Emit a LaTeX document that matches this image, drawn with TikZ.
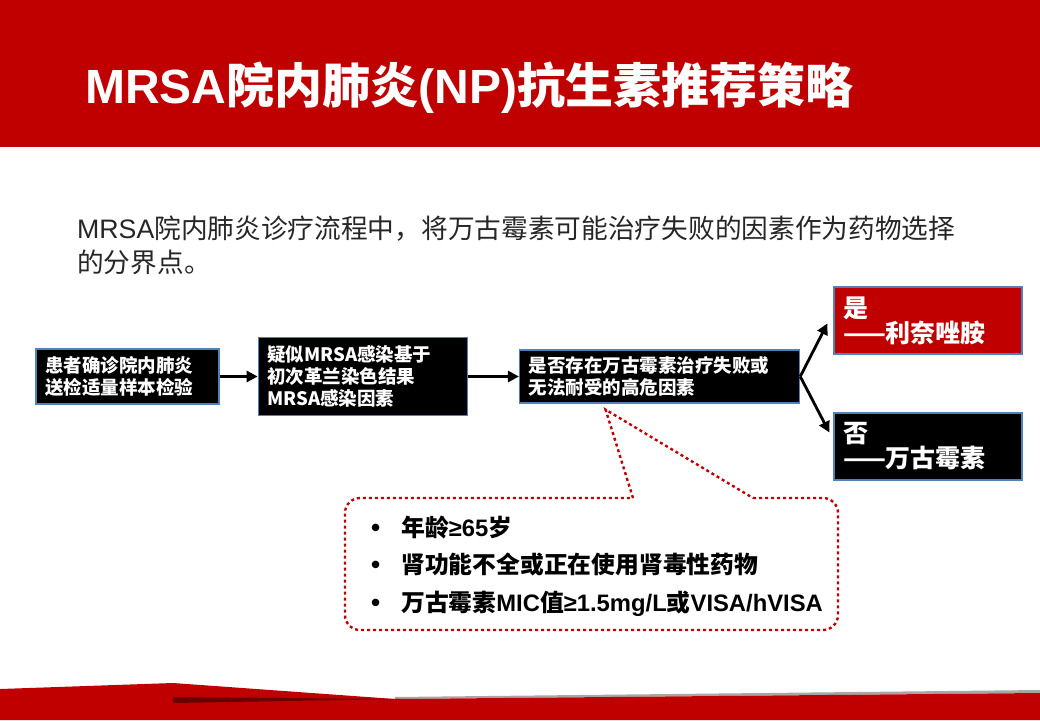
\documentclass[tikz,border=0pt]{standalone}
\usepackage{fontspec}
\setmainfont{Noto Sans CJK SC}
\newfontfamily\lat{Liberation Sans}
\usepackage{xcolor}
\usetikzlibrary{arrows.meta, positioning, calc}
\definecolor{titleRed}{HTML}{C00000}
\definecolor{edgeBlue}{HTML}{4F81BD}
\definecolor{leadGray}{HTML}{262626}
\tikzset{
  stepbox/.style={
    draw=edgeBlue, fill=#1, line width=1.3pt, text=white,
    align=left, inner xsep=9pt, inner ysep=3pt,
    font=\fontsize{18.5}{22}\selectfont\bfseries
  },
  stepbox/.default=black,
  answer/.style={
    stepbox=#1, text width=170pt, minimum height=67pt,
    font=\fontsize{25}{25}\selectfont\bfseries
  },
  titletext/.style={
    inner sep=0pt, anchor=west,
    font=\fontsize{48}{56}\selectfont\bfseries
  },
  lead/.style={
    inner sep=0pt, anchor=west, align=left, text=leadGray,
    font=\fontsize{26.7}{34}\selectfont
  },
  risklist/.style={
    inner sep=0pt, anchor=west, align=left, text=black,
    font=\fontsize{23.8}{37.5}\selectfont\bfseries
  },
  arrow/.style={-{Triangle[length=11pt,width=11pt]}, line width=2.8pt},
  callout/.style={draw=titleRed, line width=2.4pt, dash pattern=on 3pt off 3pt}
}
\newcommand{\riskitem}[1]{\makebox[30pt][l]{\lat\fontsize{26}{26}\selectfont•}#1}

\begin{document}
\begin{tikzpicture}[x=1pt, y=-1pt]
  \useasboundingbox (0,0) rectangle (1040,720);
  % title bar
  \fill[titleRed] (0,0) rectangle (1040,147);
  \node[titletext, text=white] (title) at (85,88) {{\lat MRSA}院内肺炎{\lat (NP)}抗生素推荐策略};
  \node[lead] (lead) at (77,245) {{\lat MRSA}院内肺炎诊疗流程中，将万古霉素可能治疗失败的因素作为药物选择\\的分界点。};

  % flow
  \node[stepbox, text width=165pt, minimum height=55pt] (exam) at (127.5,376.5) {患者确诊院内肺炎\\送检适量样本检验};
  \node[stepbox, text width=191pt, minimum height=78pt, right=38pt of exam] (gram) {疑似MRSA感染基于\\初次革兰染色结果\\MRSA感染因素};
  \node[stepbox, text width=262pt, minimum height=53pt, right=51pt of gram] (cond) {是否存在万古霉素治疗失败或\\无法耐受的高危因素};
  \node[answer=titleRed] (yes) at (928,320.5) {是\\——利奈唑胺};
  \node[answer=black] (no) at (928,446.5) {否\\——万古霉素};
  \draw[arrow] (exam) -- (gram);
  \draw[arrow] (gram) -- (cond);
  \draw[arrow] (cond.east) -- ($(yes.west)+(-6,3)$);
  \draw[arrow] (cond.east) -- ($(no.west)+(-4,-14)$);

  % risk factors
  \coordinate (tip) at ($(cond.south)+(-54,6)$);
  \draw[callout] (633,498) -- (tip) -- (753,498);
  \draw[callout, rounded corners=15pt] (753,498) -- (838,498) -- (838,630) -- (345,630) -- (345,498) -- (633,498);
  \node[risklist] (risks) at (371,566) {\riskitem{年龄{\lat ≥65}岁}\\\riskitem{肾功能不全或正在使用肾毒性药物}\\\riskitem{万古霉素{\lat MIC}值{\lat ≥1.5mg/L}或{\lat VISA/hVISA}}};

  % bottom band
  \fill[black!35] (395,697) -- (1040,690) -- (1040,693) -- (395,699) -- cycle;
  \fill[titleRed] (0,720) -- (0,689) -- (173,683) -- (395,699) -- (1040,693) -- (1040,720) -- cycle;
  \fill[titleRed!55!black] (173,697) -- (400,699) -- (173,703) -- cycle;
\end{tikzpicture}
\end{document}
